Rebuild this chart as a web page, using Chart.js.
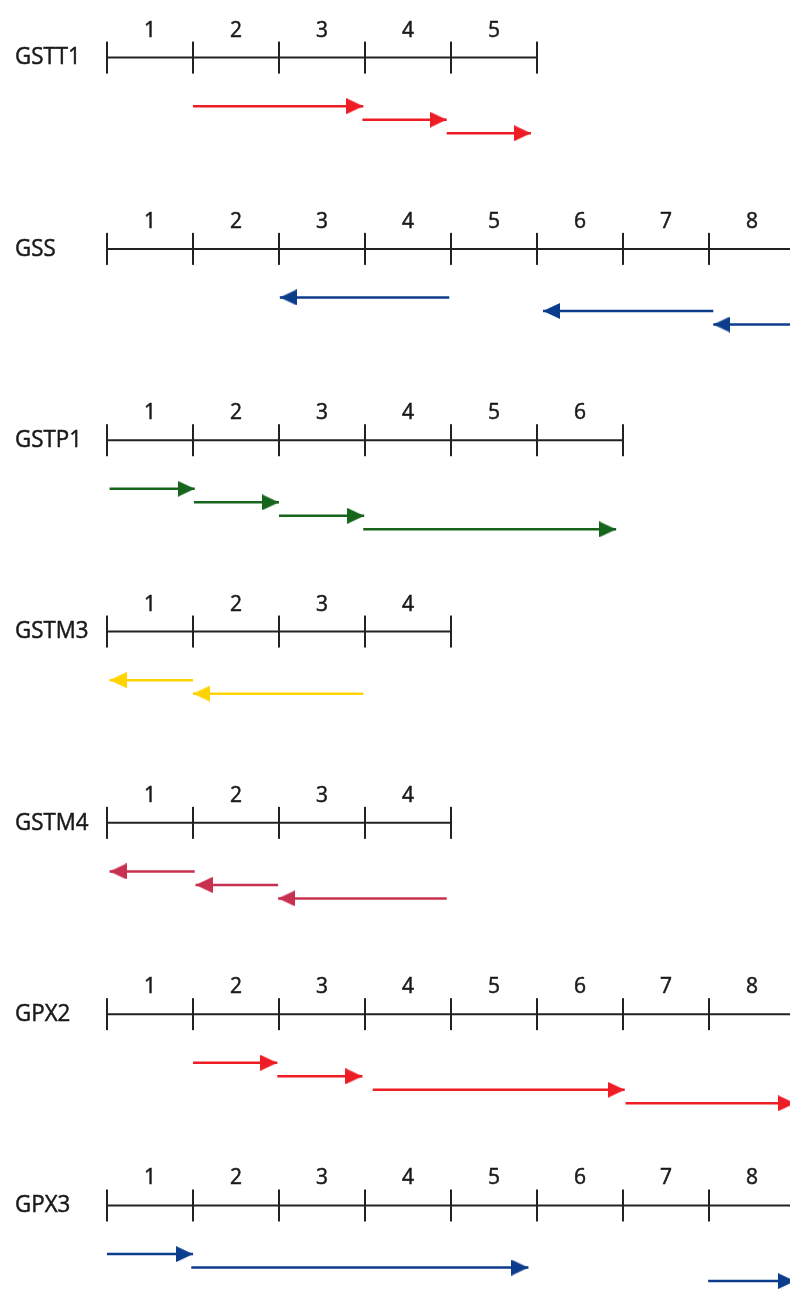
<!DOCTYPE html>
<html>
<head>
<meta charset="utf-8">
<title>Exon maps</title>
<script src="https://cdn.jsdelivr.net/npm/chart.js@4.4.1/dist/chart.umd.min.js"></script>
<style>
  html, body { margin: 0; padding: 0; background: #fff; }
  canvas { display: block; }
</style>
</head>
<body>
<canvas id="exonChart" width="790" height="1291"></canvas>
<script>
// Genes, one row each, top to bottom
const genes = ['GSTT1', 'GSS', 'GSTP1', 'GSTM3', 'GSTM4', 'GPX2', 'GPX3'];
const exonCounts = [5, 8, 6, 4, 4, 8, 8];
const runsOffEdge = [false, true, false, false, false, true, true]; // backbone keeps going past the right edge
const arrowColors = ['#ee1d25', '#0c3d8d', '#17641c', '#fdd400', '#c8304f', '#ee1d25', '#0c3d8d'];

// Arrows as [from, to] in exon boundary units (tip is "to"), one lane per arrow
const gstt1Arrows = [[1, 2.98], [2.97, 3.95], [3.95, 4.93]];
const gssArrows = [[3.98, 2.01], [7.05, 5.07], [9, 7.05]];
const gstp1Arrows = [[0.03, 1.02], [1.01, 2], [2, 2.99], [2.98, 5.92]];
const gstm3Arrows = [[1, 0.03], [2.98, 1]];
const gstm4Arrows = [[1.02, 0.03], [1.99, 1.03], [3.95, 1.99]];
const gpx2Arrows = [[1, 1.98], [1.98, 2.97], [3.09, 6.02], [6.03, 8]];
const gpx3Arrows = [[0, 1], [0.98, 4.9], [6.99, 8]];
const arrowsByGene = [gstt1Arrows, gssArrows, gstp1Arrows, gstm3Arrows, gstm4Arrows, gpx2Arrows, gpx3Arrows];

const LANE_START = 0.254; // first arrow lane below the backbone, in row units
const LANE_STEP = 0.0706;
const NUMBER_LIFT = 0.141; // exon numbers sit above the backbone
const NAME_X = -1.07; // gene names on the left

function makeHead(color) { // triangle whose tip is at the canvas centre
  const L = 17, H = 16;
  const c = document.createElement('canvas');
  c.width = L * 2; c.height = H;
  const g = c.getContext('2d');
  g.fillStyle = color;
  g.beginPath();
  g.moveTo(0, 0);
  g.lineTo(L, H / 2);
  g.lineTo(0, H);
  g.closePath();
  g.fill();
  return c;
}

const datasets = [];

genes.forEach((name, r) => {
  // backbone with a tick on every exon boundary
  const pts = [];
  for (let b = 0; b <= exonCounts[r]; b++) pts.push({ x: b, y: r });
  if (runsOffEdge[r]) pts.push({ x: exonCounts[r] + 1.5, y: r });
  const n = exonCounts[r];
  datasets.push({
    label: name,
    data: pts,
    borderColor: '#222',
    borderWidth: 2,
    pointStyle: 'line',
    rotation: 90,
    pointRadius: (ctx) => ctx.raw && ctx.raw.x <= n ? 16 : 0,
    pointBorderWidth: 2,
    pointBorderColor: '#222'
  });

  const head = makeHead(arrowColors[r]);
  arrowsByGene[r].forEach((a, lane) => {
    const yLane = r + LANE_START + LANE_STEP * lane;
    datasets.push({
      label: name + ' arrow ' + (lane + 1),
      data: [{ x: a[0], y: yLane }, { x: a[1], y: yLane }],
      borderColor: arrowColors[r],
      borderWidth: 2.5,
      pointStyle: head,
      rotation: a[1] < a[0] ? 180 : 0,
      pointRadius: (ctx) => ctx.dataIndex === 1 ? 8 : 0
    });
  });
});

const geneText = { // gene names and exon numbers
  id: 'geneText',
  afterDatasetsDraw(chart) {
    const { ctx, scales: { x, y } } = chart;
    ctx.save();
    ctx.fillStyle = '#1a1a1a';
    ctx.strokeStyle = '#1a1a1a';
    ctx.lineWidth = 0.5;
    ctx.textBaseline = 'middle';
    genes.forEach((name, r) => {
      // names are a bit condensed in the original
      ctx.save();
      ctx.font = '24px "Open Sans"';
      ctx.textAlign = 'left';
      ctx.translate(x.getPixelForValue(NAME_X), y.getPixelForValue(r));
      ctx.scale(0.93, 1);
      ctx.fillText(name, 0, 0);
      ctx.strokeText(name, 0, 0);
      ctx.restore();
      ctx.font = '21px "Open Sans"';
      ctx.textAlign = 'center';
      for (let k = 1; k <= exonCounts[r]; k++) {
        const px = x.getPixelForValue(k - 0.5), py = y.getPixelForValue(r - NUMBER_LIFT);
        ctx.fillText(String(k), px, py);
        ctx.strokeText(String(k), px, py);
      }
    });
    ctx.restore();
  }
};

new Chart(document.getElementById('exonChart'), {
  type: 'line',
  data: { datasets: datasets },
  options: {
    responsive: false,
    animation: false,
    events: [],
    layout: { padding: 0, autoPadding: false },
    plugins: { legend: { display: false }, tooltip: { enabled: false } },
    scales: {
      x: { type: 'linear', display: false, bounds: 'data', min: -1.2442, max: 7.9419 },
      y: { type: 'linear', display: false, bounds: 'data', reverse: true, min: -0.301, max: 6.447 }
    }
  },
  plugins: [geneText]
});
</script>
</body>
</html>
